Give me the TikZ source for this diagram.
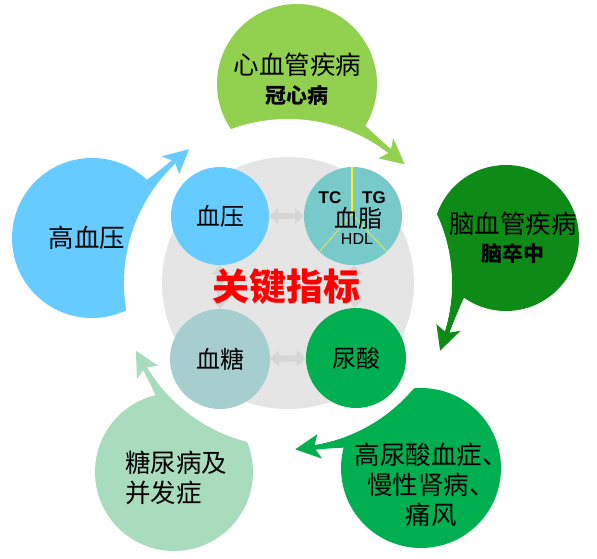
\documentclass[tikz,border=0pt]{standalone}
\usepackage{fontspec}
\setmainfont{Liberation Sans}
\newfontfamily\cjk{Noto Sans CJK SC}
\usetikzlibrary{arrows.meta}
\definecolor{hbpc}{HTML}{66CCFF}
\definecolor{cvdc}{HTML}{92D050}
\definecolor{strc}{HTML}{0E8A16}
\definecolor{uac}{HTML}{00B050}
\definecolor{dmc}{HTML}{A9DCBD}
\definecolor{graybg}{HTML}{E5E5E5}
\definecolor{dblc}{HTML}{D6D6D6}
\definecolor{lipc}{HTML}{78C9C9}
\definecolor{gluc}{HTML}{A6CECE}
\definecolor{diagc}{HTML}{CCDD77}
\newcommand{\mytail}[3]{%
 \fill[#1] plot[domain=0:1,samples=40] ({288+164*cos(#3+(#2-(#3))*\x)},{275+164*sin(#3+(#2-(#3))*\x)})
  -- plot[domain=0:1,samples=40] ({288+(169+17*(1-\x)*(1-\x))*cos(#2-(#2-(#3))*\x)},{275+(169+17*(1-\x)*(1-\x))*sin(#2-(#2-(#3))*\x)}) -- cycle;}
\newcommand{\myhead}[4]{%
 \fill[#1,shift={(288,275)}] (#4:166.5) -- (#3:179) -- (#2:166.5) -- (#3:154) -- cycle;}
\tikzset{
 blob/.style={circle,inner sep=0pt,minimum size=#1},
 outtxt/.style={font=\cjk\fontsize{25.5}{30}\selectfont,inner sep=0pt},
 subtxt/.style={font=\cjk\bfseries\fontsize{21}{24}\selectfont,inner sep=0pt},
 intxt/.style={font=\cjk\fontsize{24}{26}\selectfont},
 dbl/.style={draw=dblc,line width=6pt,arrows={Triangle[width=16pt,length=9pt]-Triangle[width=16pt,length=9pt]}},
 lbl/.style={font=\bfseries\fontsize{17}{19}\selectfont,inner sep=0pt}
}
\begin{document}
\begin{tikzpicture}[x=1pt,y=1pt]
\useasboundingbox[fill=white] (0,0) rectangle (597,558);
% outer blobs
\node[blob=160pt,fill=cvdc] (cvd) at (297,474) {};
\node[blob=146pt,fill=strc] (str) at (506,320) {};
\node[blob=160pt,fill=uac] (ua) at (421,90) {};
\node[blob=158pt,fill=dmc] (dm) at (174,86) {};
\node[blob=160pt,fill=hbpc] (hbp) at (92,320) {};
% tails
\mytail{cvdc}{72}{51}
\mytail{strc}{2}{-18.5}
\mytail{uac}{-62}{-82}
\mytail{dmc}{-130}{-150.5}
\mytail{hbpc}{152}{132}
% white gap
\fill[white] (288,275) circle (164);
% heads
\myhead{cvdc}{52}{54}{45.5}
\myhead{strc}{-17.5}{-15.5}{-24}
\myhead{uac}{-81}{-79}{-87.5}
\myhead{dmc}{-149.5}{-147.5}{-156}
\myhead{hbpc}{133}{135}{126.5}
% central
\node[blob=252pt,fill=graybg] (core) at (288,275) {};
\node[blob=98pt,fill=hbpc,intxt] (bp) at (220,342) {血压};
\node[blob=98pt,fill=lipc] (lip) at (353,342) {};
\node[blob=100pt,fill=gluc,intxt] (glu) at (220,199) {血糖};
\node[blob=100pt,fill=uac,intxt] (uric) at (356,200) {尿酸};
\draw[dbl] (bp) -- (lip);
\draw[dbl] (glu) -- (uric);
\draw[dbl] (bp) -- (glu);
\draw[dbl] (lip) -- (uric);
\coordinate (ltop) at (352,391);
\coordinate (lmid) at (352,344);
\coordinate (lleft) at (319,306);
\coordinate (lright) at (387,306);
\draw[yellow,line width=1.5pt] (ltop) -- (lmid);
\draw[diagc,line width=1.2pt] (lmid) -- (lleft);
\draw[diagc,line width=1.2pt] (lmid) -- (lright);
\node[intxt] (liptxt) at (358,340) {血脂};
\node[lbl] (tc) at (330,360) {TC};
\node[lbl] (tg) at (374,360) {TG};
\node[lbl,font=\fontsize{16}{18}\selectfont] (hdl) at (357,319) {HDL};
\node[font=\cjk\bfseries\fontsize{37}{40}\selectfont,text=red,inner sep=0pt] (key) at (286,271) {关键指标};
% outer texts
\node[outtxt] (t1) at (297.5,493) {心血管疾病};
\node[subtxt] (t1b) at (297,463) {冠心病};
\node[outtxt] (t2) at (513,334) {脑血管疾病};
\node[subtxt] (t2b) at (513,305) {脑卒中};
\node[outtxt,align=center] (t3) at (431,73) {高尿酸血症、\\慢性肾病、\\痛风};
\node[outtxt,align=left,anchor=west] (t4) at (125,80) {糖尿病及\\并发症};
\node[outtxt] (t5) at (87,320) {高血压};
\end{tikzpicture}
\end{document}
